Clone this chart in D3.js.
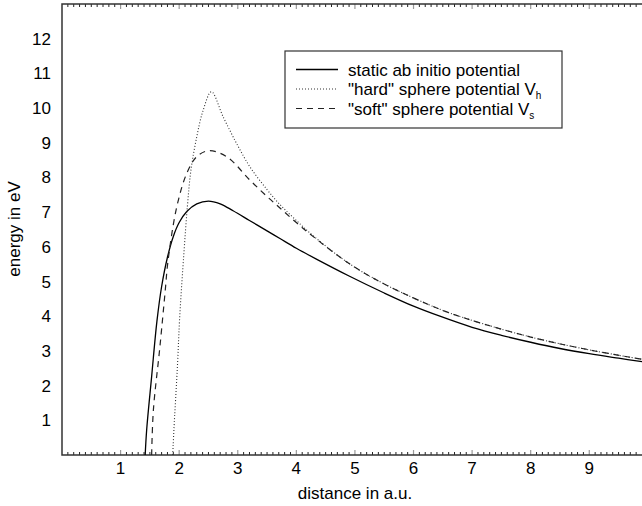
<!DOCTYPE html>
<html>
<head>
<meta charset="UTF-8" />
<title>energy vs distance</title>
<style>
  body { margin: 0; background: #fff; }
  svg { display: block; font-family: "Liberation Sans", Arial, sans-serif; }
  .tick-label { font-size: 17px; fill: #000; }
  .axis-title { font-size: 17px; fill: #000; }
  .legend text { font-size: 17px; fill: #000; }
</style>
<script src="https://d3js.org/d3.v7.min.js"></script>
</head>
<body>
<svg id="chart" width="642" height="506"></svg>
<script>
// ---- data (x in a.u., y in eV) ----
const staticX = [1.42, 1.445, 1.53, 1.62, 1.70, 1.80, 1.90, 2.0, 2.13, 2.3, 2.5, 2.7, 2.92, 3.2, 3.5, 3.72, 4.0, 4.35, 4.9, 5.5, 6.0, 6.45, 7.0, 7.5, 8.0, 8.5, 9.0, 9.5, 9.9];
const staticY = [0, 0.72, 2.26, 3.85, 4.85, 5.7, 6.3, 6.7, 7.02, 7.24, 7.32, 7.24, 7.04, 6.76, 6.46, 6.24, 5.96, 5.64, 5.16, 4.67, 4.29, 4.0, 3.68, 3.45, 3.25, 3.07, 2.92, 2.79, 2.69];

const hardX = [1.89, 1.91, 1.97, 2.01, 2.08, 2.14, 2.2, 2.3, 2.41, 2.55, 2.75, 2.98, 3.21, 3.5, 3.72, 4.0, 4.3, 4.9, 5.5, 6.45, 7.0, 8.0, 9.0, 9.9];
const hardY = [0, 0.72, 2.55, 4.0, 5.8, 7.16, 8.2, 9.17, 9.94, 10.47, 9.75, 8.98, 8.3, 7.65, 7.22, 6.76, 6.3, 5.52, 4.93, 4.2, 3.88, 3.4, 3.03, 2.76];

const softX = [1.53, 1.56, 1.67, 1.76, 1.81, 1.96, 2.13, 2.3, 2.5, 2.81, 3.21, 3.5, 3.72, 4.0, 4.3, 4.9, 5.5, 6.45, 7.0, 8.0, 9.0, 9.9];
const softY = [0, 1.3, 3.1, 4.7, 5.6, 7.16, 8.12, 8.6, 8.77, 8.6, 7.92, 7.45, 7.12, 6.7, 6.28, 5.52, 4.93, 4.2, 3.88, 3.4, 3.03, 2.76];

const xTickLabels = [1, 2, 3, 4, 5, 6, 7, 8, 9];
const yTickLabels = [1, 2, 3, 4, 5, 6, 7, 8, 9, 10, 11, 12];

const svg = d3.select("#chart");
const plotL = 62, plotR = 642, plotT = 4, plotB = 455;

const x = d3.scaleLinear().domain([0, 9.9]).range([plotL, plotR]);
const y = d3.scaleLinear().domain([0, 13]).range([plotB, plotT]);

// clip for curves
svg.append("clipPath").attr("id", "plotClip")
  .append("rect").attr("x", plotL).attr("y", plotT).attr("width", plotR - plotL).attr("height", plotB - plotT);

// ---- minor / major ticks on bottom and top ----
const minor = d3.range(1, 99).map(i => i / 10).filter(v => Math.abs(v - Math.round(v)) > 1e-6);
const ticksG = svg.append("g");
ticksG.selectAll("line.minb").data(minor).enter().append("line")
  .attr("x1", d => x(d)).attr("x2", d => x(d)).attr("y1", plotB).attr("y2", plotB - 3)
  .attr("stroke", "#222").attr("stroke-width", 1);
ticksG.selectAll("line.mint").data(minor).enter().append("line")
  .attr("x1", d => x(d)).attr("x2", d => x(d)).attr("y1", plotT).attr("y2", plotT + 3)
  .attr("stroke", "#222").attr("stroke-width", 1);
ticksG.selectAll("line.majb").data(xTickLabels).enter().append("line")
  .attr("x1", d => x(d)).attr("x2", d => x(d)).attr("y1", plotB).attr("y2", plotB - 5)
  .attr("stroke", "#999").attr("stroke-width", 1.2);
ticksG.selectAll("line.majt").data(xTickLabels).enter().append("line")
  .attr("x1", d => x(d)).attr("x2", d => x(d)).attr("y1", plotT).attr("y2", plotT + 5)
  .attr("stroke", "#999").attr("stroke-width", 1.2);

// ---- frame ----
svg.append("path")
  .attr("d", `M${plotR},${plotT}H${plotL}V${plotB}H${plotR}`)
  .attr("fill", "none").attr("stroke", "#333").attr("stroke-width", 1.5);

// ---- tick labels ----
svg.selectAll("text.xl").data(xTickLabels).enter().append("text")
  .attr("class", "tick-label").attr("x", d => x(d)).attr("y", 474)
  .attr("text-anchor", "middle").text(d => d);
svg.selectAll("text.yl").data(yTickLabels).enter().append("text")
  .attr("class", "tick-label").attr("x", 51).attr("y", d => y(d) + 6)
  .attr("text-anchor", "end").text(d => d);

// ---- axis titles ----
svg.append("text").attr("class", "axis-title")
  .attr("x", 355).attr("y", 499).attr("text-anchor", "middle").text("distance in a.u.");
svg.append("text").attr("class", "axis-title")
  .attr("transform", "translate(20,229) rotate(-90)").attr("text-anchor", "middle").text("energy in eV");

// ---- curves ----
const line = d3.line().x(d => x(d[0])).y(d => y(d[1])).curve(d3.curveCatmullRom.alpha(0.5));
const series = [
  { xs: staticX, ys: staticY, dash: null, color: "#000", w: 1.3 },
  { xs: hardX, ys: hardY, dash: "1,2", color: "#333", w: 1.1 },
  { xs: softX, ys: softY, dash: "6,5", color: "#222", w: 1.2 }
];
const curves = svg.append("g").attr("clip-path", "url(#plotClip)");
series.forEach(s => {
  curves.append("path")
    .datum(d3.zip(s.xs, s.ys))
    .attr("d", line)
    .attr("fill", "none")
    .attr("stroke", s.color)
    .attr("stroke-width", s.w)
    .attr("stroke-dasharray", s.dash);
});

// ---- legend ----
const legend = svg.append("g").attr("class", "legend");
legend.append("rect").attr("x", 285).attr("y", 51).attr("width", 277).attr("height", 77)
  .attr("fill", "#fff").attr("stroke", "#333").attr("stroke-width", 1.2);
const legendRows = [
  { label: "static ab initio potential", sub: null },
  { label: "\"hard\" sphere potential V", sub: "h" },
  { label: "\"soft\" sphere potential V", sub: "s" }
];
legendRows.forEach((r, i) => {
  const ly = 69.5 + i * 19.5;
  legend.append("line").attr("x1", 296).attr("x2", 338).attr("y1", ly).attr("y2", ly)
    .attr("stroke", series[i].color).attr("stroke-width", series[i].w)
    .attr("stroke-dasharray", series[i].dash);
  const t = legend.append("text").attr("x", 348).attr("y", ly + 6).text(r.label);
  if (r.sub) {
    t.append("tspan").attr("dy", 4).style("font-size", "10px").text(r.sub);
  }
});
</script>
</body>
</html>
